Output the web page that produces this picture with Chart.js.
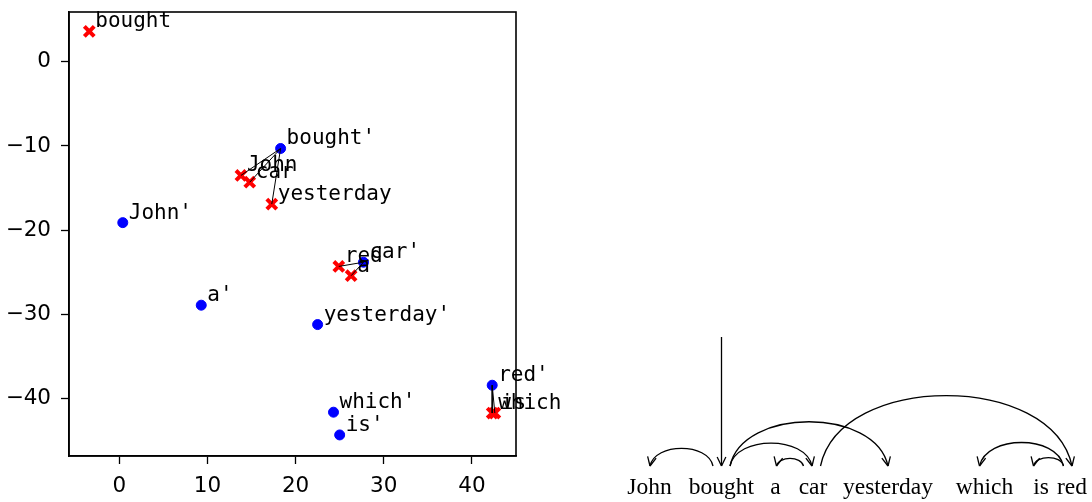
<!DOCTYPE html>
<html>
<head>
<meta charset="utf-8">
<script src="https://cdn.jsdelivr.net/npm/chart.js@4"></script>
<style>
  html, body { margin: 0; padding: 0; background: #fff; }
  #wrap { width: 1092px; height: 502px; }
</style>
</head>
<body>
<div id="wrap"><canvas id="chart1"></canvas></div>
<script>
// tokens of the sentence, and the head of each one (-1 = root)
const tokens = ['John', 'bought', 'a', 'car', 'yesterday', 'which', 'is', 'red'];
const heads = [1, -1, 3, 1, 1, 7, 7, 3];

// red crosses (source positions)
const srcX = [13.8, -3.4, 26.3, 14.8, 17.3, 42.3, 42.6, 24.9];
const srcY = [-13.5, 3.6, -25.4, -14.3, -16.9, -41.7, -41.7, -24.3];

// blue dots (target positions, primed words)
const tgtX = [0.4, 18.3, 9.3, 27.7, 22.5, 24.3, 25.0, 42.3];
const tgtY = [-19.1, -10.3, -28.9, -23.8, -31.2, -41.6, -44.3, -38.4];

const xTicks = [0, 10, 20, 30, 40];
const yTicks = [0, -10, -20, -30, -40];

// build datasets
const edgeSets = [];
heads.forEach((h, i) => {
  if (h < 0) return;
  edgeSets.push({
    type: 'line',
    data: [{ x: tgtX[h], y: tgtY[h] }, { x: srcX[i], y: srcY[i] }],
    borderColor: '#000',
    borderWidth: 1,
    pointRadius: 0,
    fill: false
  });
});

const srcPts = tokens.map((t, i) => ({ x: srcX[i], y: srcY[i] }));
const tgtPts = tokens.map((t, i) => ({ x: tgtX[i], y: tgtY[i] }));

function minus(v) {
  return String(v).replace('-', '\u2212');
}

// labels next to each point
const pointLabels = {
  id: 'pointLabels',
  afterDatasetsDraw(chart) {
    const ctx = chart.ctx;
    const xs = chart.scales.x, ys = chart.scales.y;
    ctx.save();
    ctx.font = "21px 'DejaVu Sans Mono'";
    ctx.fillStyle = '#000';
    ctx.textBaseline = 'alphabetic';
    tokens.forEach((t, i) => {
      ctx.fillText(t, xs.getPixelForValue(srcX[i]) + 6, ys.getPixelForValue(srcY[i]) - 4);
      ctx.fillText(t + "'", xs.getPixelForValue(tgtX[i]) + 6, ys.getPixelForValue(tgtY[i]) - 4);
    });
    // box round the plot
    const a = chart.chartArea;
    ctx.strokeStyle = '#000';
    ctx.lineWidth = 1.6;
    ctx.strokeRect(a.left, a.top, a.right - a.left, a.bottom - a.top);
    ctx.restore();
  }
};

// dependency arcs on the right side
const wordCenters = [649.5, 721.5, 775.5, 813, 888, 984.5, 1041, 1072];
const arrowX = [650, 721.5, 776.5, 812, 888, 979.5, 1033.5, 1072];

function arrowHead(ctx, x, y, dx, dy) {
  const len = Math.hypot(dx, dy);
  const ux = dx / len, uy = dy / len;
  const L = 10, ang = 0.45;
  [ang, -ang].forEach(a => {
    const rx = ux * Math.cos(a) - uy * Math.sin(a);
    const ry = ux * Math.sin(a) + uy * Math.cos(a);
    ctx.beginPath();
    ctx.moveTo(x, y);
    ctx.lineTo(x - rx * L, y - ry * L);
    ctx.stroke();
  });
}

const depTree = {
  id: 'depTree',
  afterDraw(chart) {
    const ctx = chart.ctx;
    const y0 = 466;
    ctx.save();
    ctx.strokeStyle = '#000';
    ctx.lineWidth = 1.3;
    ctx.font = "23.5px 'Liberation Serif'";
    ctx.fillStyle = '#000';
    ctx.textAlign = 'center';
    ctx.textBaseline = 'alphabetic';
    tokens.forEach((t, i) => ctx.fillText(t, wordCenters[i], 494));

    heads.forEach((h, i) => {
      if (h < 0) {
        const x = arrowX[i];
        ctx.beginPath();
        ctx.moveTo(x, 337);
        ctx.lineTo(x, y0);
        ctx.stroke();
        arrowHead(ctx, x, y0, 0, 1);
        return;
      }
      const dir = i > h ? 1 : -1;
      const xs = arrowX[h] + dir * 8.5;
      const xe = arrowX[i];
      const d = xe - xs;
      const hgt = 0.28 * Math.abs(d);
      const cy = y0 - hgt / 0.75;
      const c1x = xs + 0.08 * d, c2x = xe - 0.08 * d;
      ctx.beginPath();
      ctx.moveTo(xs, y0);
      ctx.bezierCurveTo(c1x, cy, c2x, cy, xe, y0);
      ctx.stroke();
      arrowHead(ctx, xe, y0, xe - c2x, y0 - cy);
    });
    ctx.restore();
  }
};

new Chart(document.getElementById('chart1'), {
  type: 'scatter',
  data: {
    datasets: [
      ...edgeSets,
      {
        data: srcPts,
        pointStyle: 'crossRot',
        pointRadius: 7,
        borderWidth: 4,
        borderColor: '#ff0000',
        backgroundColor: '#ff0000'
      },
      {
        data: tgtPts,
        pointStyle: 'circle',
        pointRadius: 5,
        borderWidth: 1,
        borderColor: '#0000ff',
        backgroundColor: '#0000ff'
      }
    ]
  },
  options: {
    responsive: true,
    maintainAspectRatio: false,
    animation: false,
    layout: { padding: { left: 0, top: 12, right: 576, bottom: 0 } },
    plugins: { legend: { display: false }, tooltip: { enabled: false } },
    scales: {
      x: {
        type: 'linear',
        min: -5.7,
        max: 45,
        afterBuildTicks: s => { s.ticks = xTicks.map(v => ({ value: v })); },
        afterFit: s => { s.height = 46; s.paddingLeft = 0; s.paddingRight = 0; },
        grid: { display: true, drawOnChartArea: false, tickLength: 8, tickColor: '#000', tickWidth: 1.3 },
        border: { display: true, color: '#000', width: 1.6 },
        ticks: { color: '#000', font: { family: 'DejaVu Sans', size: 21.5 }, padding: 10, maxRotation: 0, callback: v => minus(v) }
      },
      y: {
        type: 'linear',
        min: -46.8,
        max: 5.9,
        afterBuildTicks: s => { s.ticks = yTicks.map(v => ({ value: v })); },
        afterFit: s => { s.width = 69; s.paddingTop = 0; s.paddingBottom = 0; },
        grid: { display: true, drawOnChartArea: false, tickLength: 8, tickColor: '#000', tickWidth: 1.3 },
        border: { display: true, color: '#000', width: 1.6 },
        ticks: { color: '#000', font: { family: 'DejaVu Sans', size: 21.5 }, padding: 10, callback: v => minus(v) }
      }
    }
  },
  plugins: [pointLabels, depTree]
});
</script>
</body>
</html>
